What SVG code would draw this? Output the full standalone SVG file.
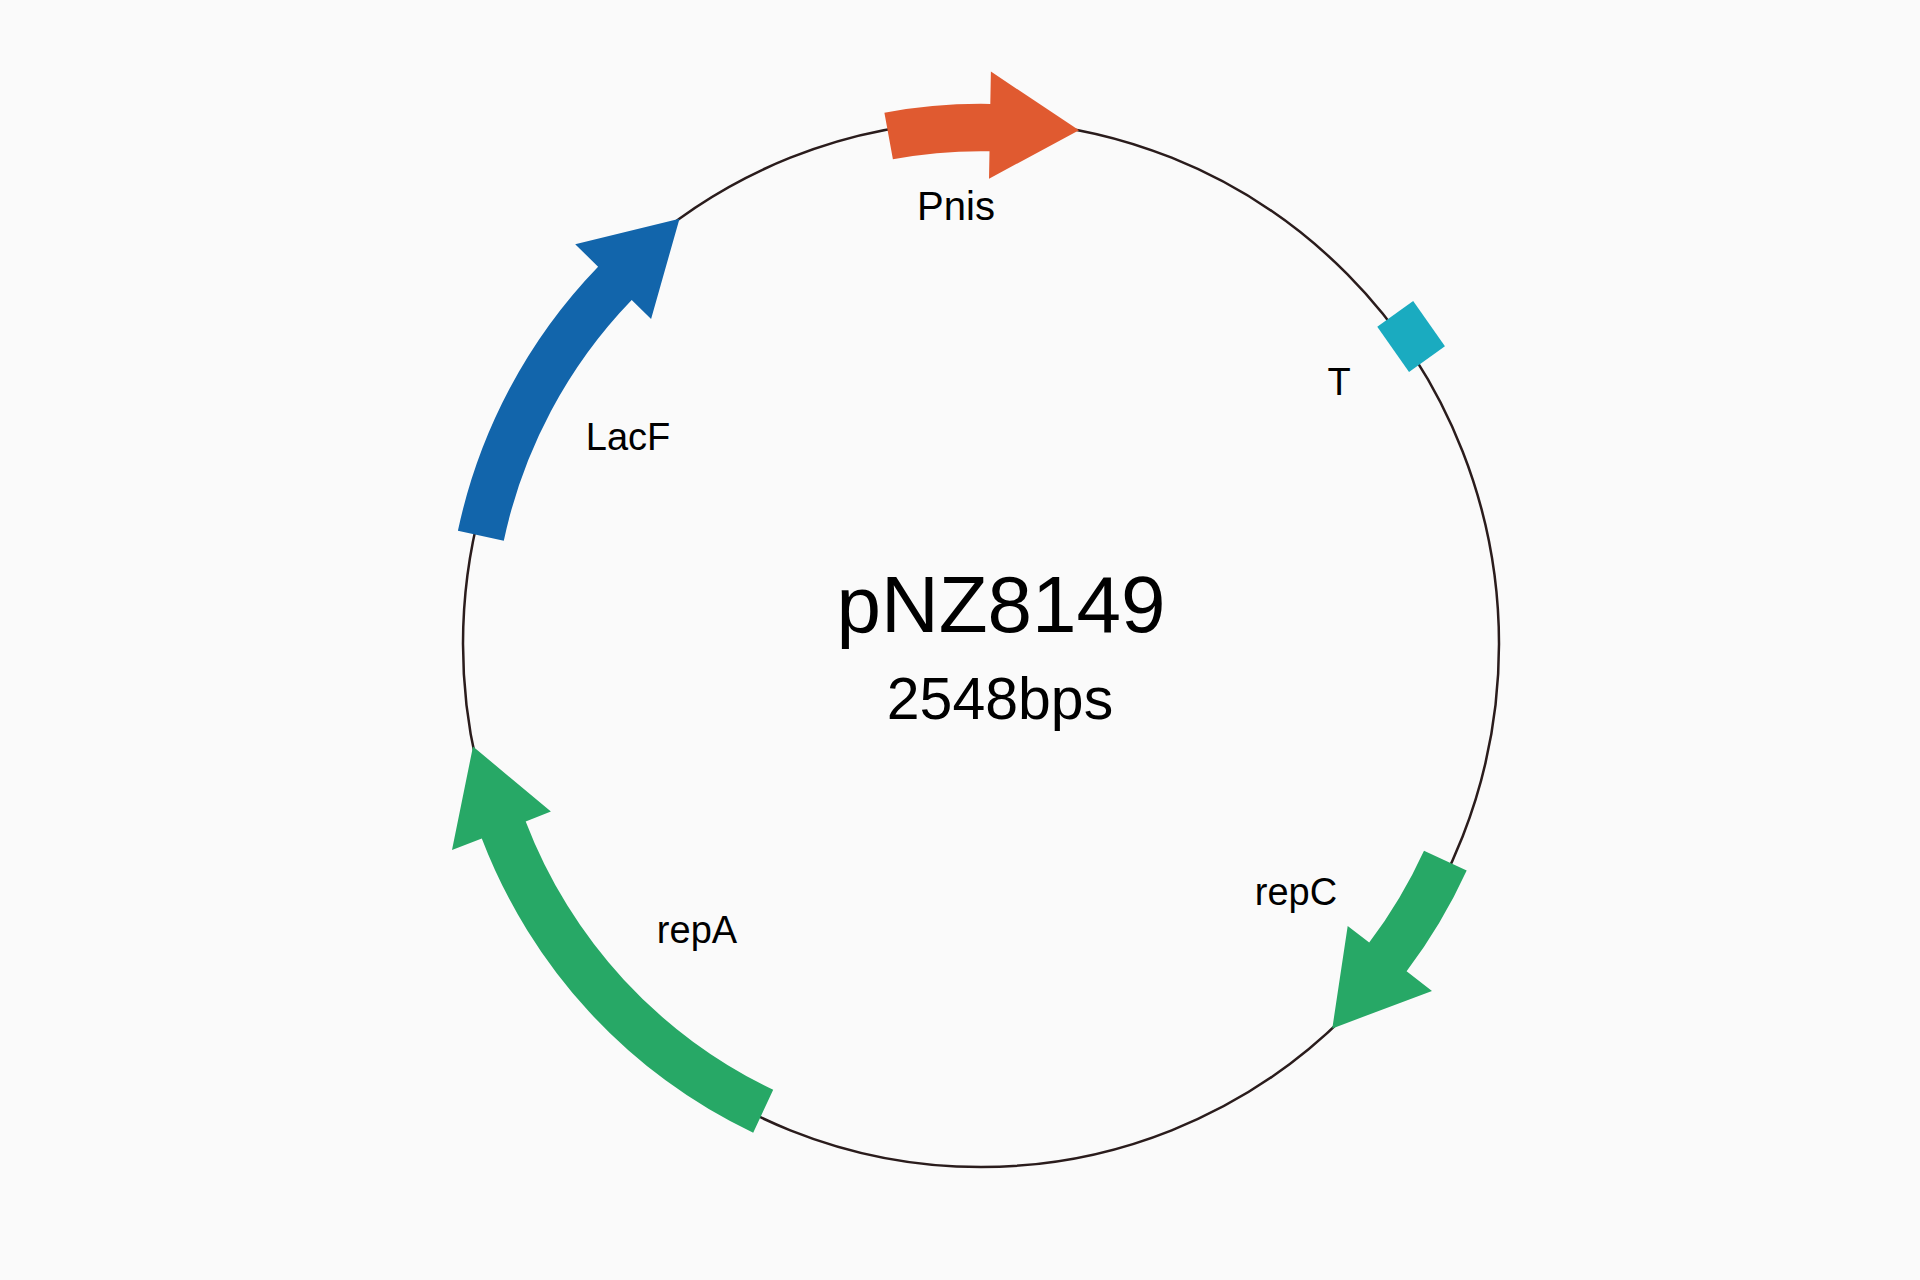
<svg xmlns="http://www.w3.org/2000/svg" width="1920" height="1280" viewBox="0 0 1920 1280">
<style>
.lbl{font-family:"Liberation Sans",Arial,sans-serif;font-size:38px;fill:#000;text-anchor:middle}
.title{font-family:"Liberation Sans",Arial,sans-serif;font-size:80px;fill:#000;text-anchor:middle}
.sub{font-family:"Liberation Sans",Arial,sans-serif;font-size:59px;fill:#000;text-anchor:middle}
.backbone{fill:none;stroke:#2a1c1c;stroke-width:2.5}
</style>
<rect width="1920" height="1280" fill="#fafafa"/>
<g id="map" transform="translate(981,644) scale(1,1.0097)">
  <g id="connectors">
    <circle id="backbone" class="backbone" cx="0" cy="0" r="518"/>
  </g>
  <g id="Pnis">
    <path fill="#e05a30" d="M-96.6,-526.2 A535,535 0 0 1 9.3,-534.9 L9.9,-566.9 L98.0,-508.7 L8.0,-460.9 L8.5,-487.9 A488,488 0 0 0 -88.1,-480.0 Z"/>
  </g>
  <g id="LacF">
    <path fill="#1265ab" d="M-523.1,-112.1 A535,535 0 0 1 -382.9,-373.6 L-405.8,-396.0 L-301.5,-421.2 L-329.9,-322.0 L-349.3,-340.8 A488,488 0 0 0 -477.2,-102.3 Z"/>
  </g>
  <g id="T">
    <rect fill="#1aabc0" x="-27.5" y="-549" width="55" height="44" transform="rotate(54.7)"/>
  </g>
  <g id="repC">
    <path fill="#27a866" d="M485.7,224.4 A535,535 0 0 1 425.6,324.2 L451.0,343.6 L351.3,380.7 L366.7,279.4 L388.2,295.7 A488,488 0 0 0 443.0,204.7 Z"/>
  </g>
  <g id="repA">
    <path fill="#27a866" d="M-227.8,484.1 A535,535 0 0 1 -499.2,192.6 L-529.0,204.1 L-508.0,101.5 L-430.1,166.0 L-455.3,175.7 A488,488 0 0 0 -207.8,441.5 Z"/>
  </g>
</g>
<g id="labels">
  <text class="lbl" x="956" y="220" style="font-size:40px">Pnis</text>
  <text class="lbl" x="628" y="450">LacF</text>
  <text class="lbl" x="1339" y="395">T</text>
  <text class="lbl" x="1296" y="905">repC</text>
  <text class="lbl" x="697" y="943">repA</text>
  <text class="title" x="1001" y="632">pNZ8149</text>
  <text class="sub" x="1000" y="719">2548bps</text>
</g>
</svg>
